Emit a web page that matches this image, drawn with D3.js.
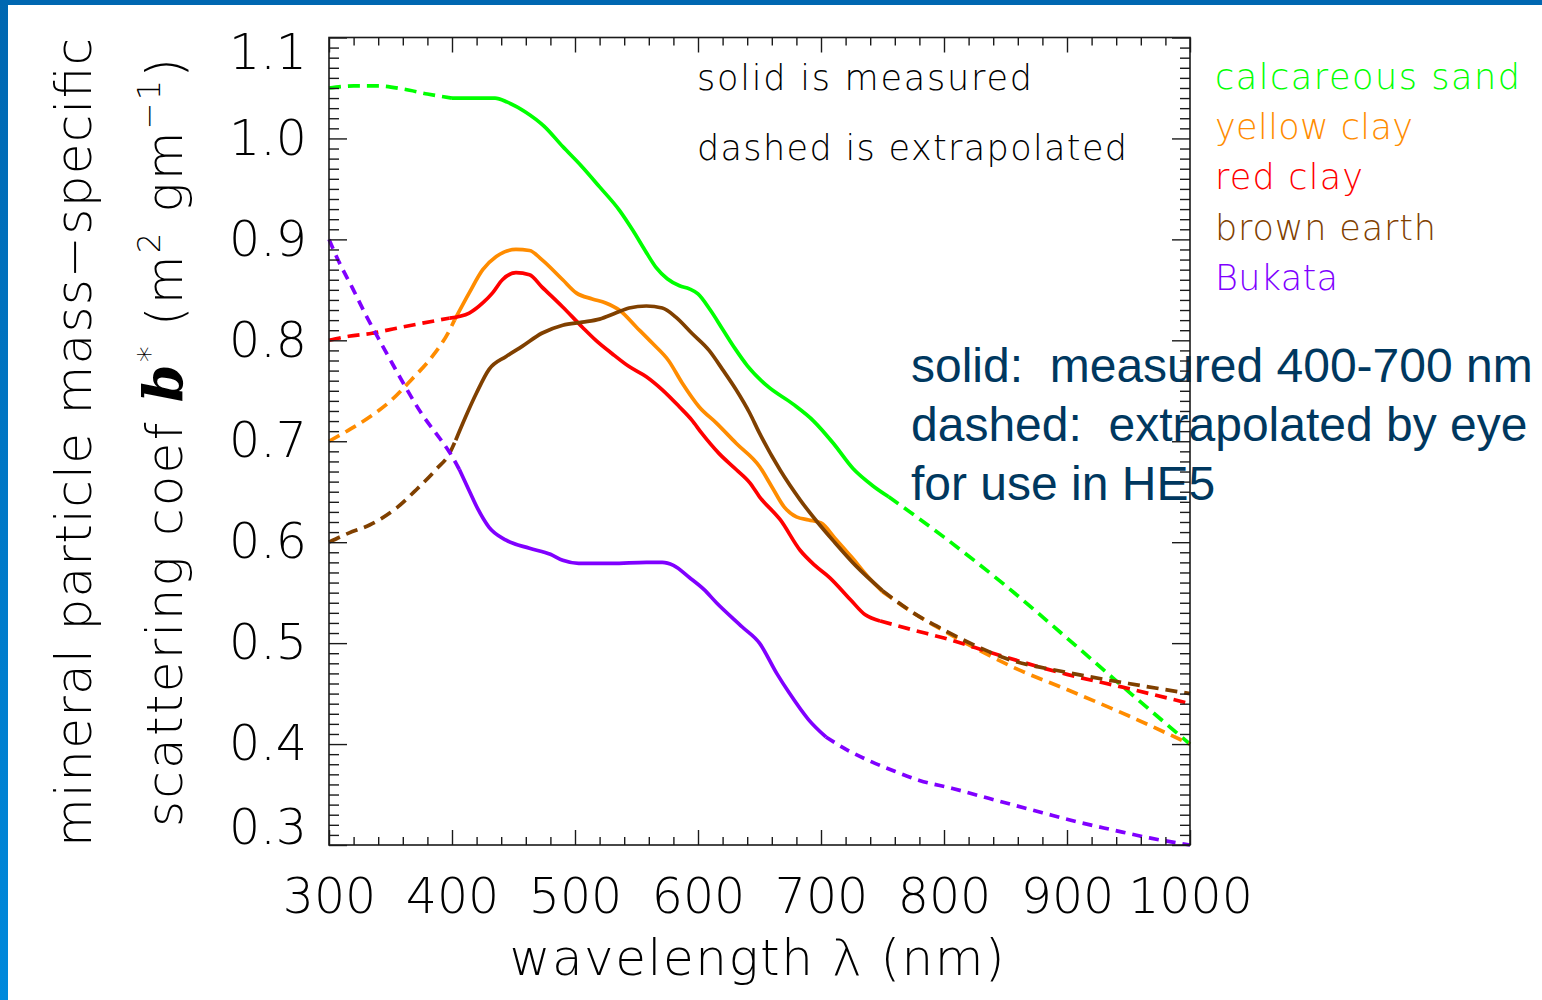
<!DOCTYPE html>
<html>
<head>
<meta charset="utf-8">
<script src="https://cdn.jsdelivr.net/npm/d3@7"></script>
<style>
  body { margin: 0; background: #ffffff; }
  svg { display: block; }
</style>
</head>
<body>
<svg id="chart" width="1542" height="1000"></svg>
<script>
// ---------------- DATA ----------------
const seriesNames  = ["calcareous sand", "yellow clay", "red clay", "brown earth", "Bukata"];
const seriesColors = ["#00ff00", "#ff8c00", "#ff0000", "#804000", "#8000ff"];

// [wavelength nm, b* m^2 g^-1]
const calcareousSand = [[300,1.050],[320,1.052],[340,1.052],[360,1.049],[380,1.044],[400,1.040],[420,1.040],[435,1.040],[445,1.036],[460,1.026],[475,1.012],[490,0.992],[505,0.973],[520,0.952],[536,0.929],[547,0.909],[557,0.889],[566,0.872],[575,0.861],[585,0.854],[593,0.851],[600,0.846],[610,0.830],[620,0.811],[630,0.792],[640,0.775],[656,0.755],[677,0.737],[694,0.720],[710,0.698],[726,0.673],[742,0.656],[755,0.645],[800,0.605],[850,0.557],[900,0.505],[950,0.452],[1000,0.400]];
const yellowClay = [[300,0.700],[316,0.711],[333,0.724],[351,0.741],[367,0.761],[384,0.784],[398,0.810],[402,0.820],[414,0.847],[425,0.870],[436,0.883],[452,0.890],[463,0.889],[473,0.880],[490,0.860],[501,0.847],[514,0.841],[525,0.837],[536,0.830],[550,0.813],[563,0.797],[576,0.780],[587,0.758],[601,0.734],[615,0.718],[631,0.698],[650,0.675],[660,0.655],[670,0.635],[680,0.625],[690,0.622],[700,0.619],[712,0.603],[725,0.585],[738,0.566],[750,0.551],[775,0.530],[800,0.512],[830,0.492],[860,0.474],[900,0.454],[950,0.428],[1000,0.400]];
const redClay = [[300,0.800],[316,0.804],[335,0.807],[355,0.812],[376,0.817],[398,0.822],[414,0.827],[425,0.837],[433,0.847],[441,0.860],[452,0.867],[463,0.865],[473,0.853],[490,0.833],[506,0.813],[517,0.800],[530,0.787],[544,0.774],[558,0.764],[571,0.751],[585,0.734],[595,0.721],[603,0.708],[617,0.688],[631,0.672],[642,0.659],[650,0.645],[667,0.622],[683,0.592],[695,0.577],[707,0.565],[724,0.543],[736,0.528],[748,0.522],[775,0.513],[800,0.505],[845,0.488],[900,0.469],[950,0.455],[1000,0.440]];
const brownEarth = [[300,0.600],[316,0.609],[333,0.617],[355,0.634],[371,0.652],[387,0.672],[398,0.688],[403,0.701],[411,0.724],[420,0.748],[430,0.771],[444,0.784],[457,0.794],[473,0.807],[490,0.815],[506,0.818],[520,0.821],[533,0.827],[544,0.832],[558,0.834],[571,0.832],[582,0.823],[595,0.807],[609,0.790],[620,0.771],[631,0.751],[642,0.728],[650,0.708],[667,0.671],[683,0.642],[697,0.620],[711,0.600],[728,0.577],[750,0.552],[775,0.530],[800,0.513],[830,0.495],[850,0.485],[900,0.471],[950,0.460],[1000,0.450]];
const bukata = [[300,0.900],[308,0.878],[319,0.852],[330,0.825],[341,0.800],[351,0.778],[363,0.752],[376,0.726],[390,0.703],[398,0.689],[406,0.672],[414,0.651],[421,0.633],[430,0.615],[444,0.602],[463,0.594],[480,0.588],[490,0.582],[503,0.579],[530,0.579],[558,0.580],[571,0.580],[580,0.577],[593,0.565],[605,0.553],[615,0.540],[636,0.516],[650,0.500],[664,0.470],[674,0.451],[690,0.424],[704,0.407],[720,0.395],[740,0.383],[760,0.373],[780,0.364],[807,0.356],[837,0.346],[880,0.332],[908,0.323],[937,0.315],[967,0.307],[1000,0.300]];

// measured (solid) wavelength span for each series
const measuredStart = [400, 402, 398, 403, 406];
const measuredEnd   = [755, 750, 748, 750, 704];

const xTickValues = [300, 400, 500, 600, 700, 800, 900, 1000];
const yTickValues = [0.3, 0.4, 0.5, 0.6, 0.7, 0.8, 0.9, 1.0, 1.1];
const plotNotes = ["solid is measured", "dashed is extrapolated"];
const slideNotes = ["solid:  measured 400-700 nm", "dashed:  extrapolated by eye", "for use in HE5"];

// ---------------- DRAW ----------------
const allSeries = [calcareousSand, yellowClay, redClay, brownEarth, bukata];
const W = 1542, H = 1000;
const HFONT = "'DejaVu Sans ExtraLight', 'DejaVu Sans', 'Liberation Sans', sans-serif";
const HWEIGHT = 200;
const svg = d3.select("#chart");

const defs = svg.append("defs");
const grad = defs.append("linearGradient").attr("id", "edge").attr("x1", 0).attr("y1", 0).attr("x2", 0).attr("y2", 1);
grad.append("stop").attr("offset", "0%").attr("stop-color", "#0067b1");
grad.append("stop").attr("offset", "100%").attr("stop-color", "#0089dc");
svg.append("rect").attr("x", 0).attr("y", 0).attr("width", W).attr("height", H).attr("fill", "#ffffff");

const x = d3.scaleLinear().domain([300, 1000]).range([329, 1190]);
const y = d3.scaleLinear().domain([0.3, 1.1]).range([845, 37.5]);

// slide annotation
const notes = svg.append("g").attr("font-family", "'Liberation Sans', Arial, sans-serif")
  .attr("font-size", 48).attr("fill", "#00385f");
slideNotes.forEach((t, i) => {
  notes.append("text").attr("x", 911).attr("y", 382 + i * 59)
    .style("white-space", "pre").text(t);
});

// curves
const line = d3.line().x(d => x(d[0])).y(d => y(d[1])).curve(d3.curveMonotoneX);
const curves = svg.append("g").attr("fill", "none").attr("stroke-width", 3.7).attr("stroke-linejoin", "round");
allSeries.forEach((s, i) => {
  const s0 = measuredStart[i], s1 = measuredEnd[i];
  const left = s.filter(d => d[0] <= s0);
  const mid = s.filter(d => d[0] >= s0 && d[0] <= s1);
  const right = s.filter(d => d[0] >= s1);
  const dash = i === 4 ? "10,7" : "12,7";
  curves.append("path").attr("d", line(left)).attr("stroke", seriesColors[i]).attr("stroke-dasharray", dash);
  curves.append("path").attr("d", line(right)).attr("stroke", seriesColors[i]).attr("stroke-dasharray", dash);
  curves.append("path").attr("d", line(mid)).attr("stroke", seriesColors[i]);
});

// axes
const xMinor = d3.range(300, 1001, 20).filter(v => v % 100 !== 0);
const yMinor = d3.range(30, 111, 1).filter(v => v % 10 !== 0).map(v => v / 100);
const axisStyle = g => {
  g.select(".domain").remove();
  g.selectAll("line").attr("stroke", "#1a1a1a").attr("stroke-width", 1.4);
};
const labelStyle = g => g.selectAll("text").attr("font-family", HFONT).attr("font-weight", HWEIGHT)
  .attr("font-size", 49).attr("fill", "#000");
const axes = svg.append("g");
axes.append("g").attr("transform", "translate(0,845)")
  .call(d3.axisBottom(x).tickValues(xTickValues).tickSize(-15).tickPadding(33).tickFormat(d3.format("d")))
  .call(axisStyle).call(labelStyle);
axes.append("g").attr("transform", "translate(0,845)")
  .call(d3.axisBottom(x).tickValues(xMinor).tickSize(-8).tickFormat("")).call(axisStyle);
axes.append("g").attr("transform", "translate(0,37.5)")
  .call(d3.axisTop(x).tickValues(xTickValues).tickSize(-15).tickFormat("")).call(axisStyle);
axes.append("g").attr("transform", "translate(0,37.5)")
  .call(d3.axisTop(x).tickValues(xMinor).tickSize(-8).tickFormat("")).call(axisStyle);
axes.append("g").attr("transform", "translate(329,0)")
  .call(d3.axisLeft(y).tickValues(yTickValues).tickSize(-18).tickPadding(22).tickFormat(d3.format(".1f")))
  .call(axisStyle).call(labelStyle)
  .call(g => g.selectAll("text")
    .attr("transform", d => d === 1.1 ? "translate(0,15)" : d === 0.3 ? "translate(0,-17)" : null));
axes.append("g").attr("transform", "translate(329,0)")
  .call(d3.axisLeft(y).tickValues(yMinor).tickSize(-10).tickFormat("")).call(axisStyle);
axes.append("g").attr("transform", "translate(1190,0)")
  .call(d3.axisRight(y).tickValues(yTickValues).tickSize(-18).tickFormat("")).call(axisStyle);
axes.append("g").attr("transform", "translate(1190,0)")
  .call(d3.axisRight(y).tickValues(yMinor).tickSize(-10).tickFormat("")).call(axisStyle);
axes.append("rect").attr("x", 329).attr("y", 37.5).attr("width", 861).attr("height", 807.5)
  .attr("fill", "none").attr("stroke", "#1a1a1a").attr("stroke-width", 1.6);

// axis titles
svg.append("text").attr("x", 757).attr("y", 975).attr("text-anchor", "middle")
  .attr("font-family", HFONT).attr("font-weight", HWEIGHT).attr("font-size", 50)
  .attr("textLength", 495).attr("lengthAdjust", "spacing")
  .text("wavelength λ (nm)");
svg.append("text").attr("transform", "translate(91,442.5) rotate(-90)").attr("text-anchor", "middle")
  .attr("font-family", HFONT).attr("font-weight", HWEIGHT).attr("font-size", 50)
  .attr("textLength", 809).attr("lengthAdjust", "spacing")
  .text("mineral particle mass−specific");
const t2 = svg.append("text").attr("transform", "translate(182,442.5) rotate(-90)").attr("text-anchor", "middle")
  .attr("font-family", HFONT).attr("font-weight", HWEIGHT).attr("font-size", 50)
  .attr("textLength", 769).attr("lengthAdjust", "spacing");
t2.append("tspan").text("scattering coef ");
t2.append("tspan").attr("font-weight", "bold").attr("font-style", "italic").attr("font-family", "'DejaVu Serif', serif").attr("font-size", 54).text("b");
t2.append("tspan").attr("font-size", 32).attr("dy", -22).text("*");
t2.append("tspan").attr("dy", 22).text(" (m");
t2.append("tspan").attr("font-size", 32).attr("dy", -22).text("2");
t2.append("tspan").attr("dy", 22).text(" gm");
t2.append("tspan").attr("font-size", 32).attr("dy", -22).text("−1");
t2.append("tspan").attr("dy", 22).text(")");

// legend
const legendWidths = [305, 198, 148, 221, 123];
seriesNames.forEach((n, i) => {
  svg.append("text").attr("x", 1215).attr("y", 89 + i * 50.2)
    .attr("font-family", HFONT).attr("font-weight", HWEIGHT).attr("font-size", 35).attr("fill", seriesColors[i])
    .attr("textLength", legendWidths[i]).attr("lengthAdjust", "spacing").text(n);
});

// in-plot notes
const noteWidths = [335, 430];
plotNotes.forEach((t, i) => {
  svg.append("text").attr("x", 697).attr("y", 90 + i * 70)
    .attr("font-family", HFONT).attr("font-weight", HWEIGHT).attr("font-size", 35).attr("fill", "#000")
    .attr("textLength", noteWidths[i]).attr("lengthAdjust", "spacing").text(t);
});

// slide frame edges
svg.append("rect").attr("x", 0).attr("y", 0).attr("width", W).attr("height", 5).attr("fill", "#0067b1");
svg.append("rect").attr("x", 0).attr("y", 0).attr("width", 8).attr("height", H).attr("fill", "url(#edge)");
</script>
</body>
</html>
